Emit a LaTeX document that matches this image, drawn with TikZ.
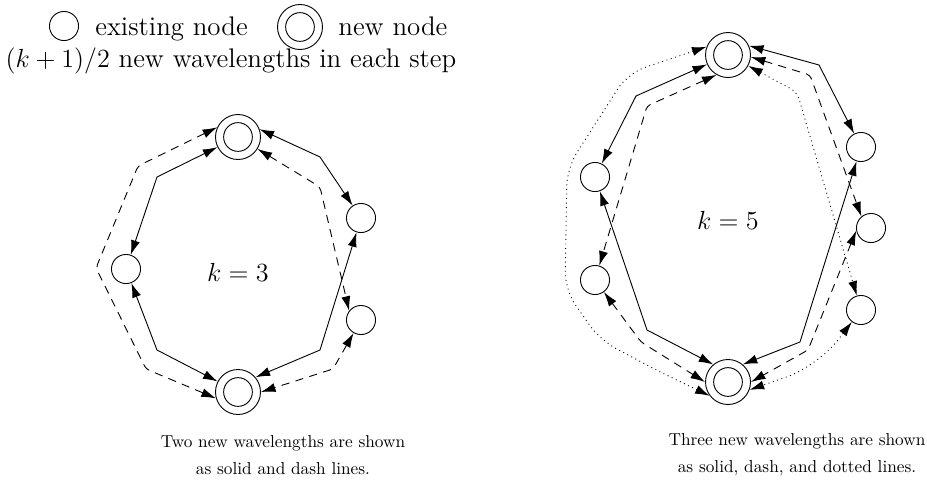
\documentclass[tikz,border=0pt]{standalone}
\usepackage{tikz}
\usetikzlibrary{arrows.meta}

\tikzset{
  oldnode/.style={circle, draw, line width=0.5pt, minimum size=16pt, inner sep=0pt},
  newnode/.style={circle, draw, line width=0.5pt, minimum size=24.75pt, inner sep=0pt,
    path picture={\draw[line width=0.5pt] (path picture bounding box.center) circle (7.9pt);}},
  solidline/.style={<->, >={Latex[length=8pt,width=5pt]}, line width=0.5pt},
  dashline/.style={solidline, dash pattern=on 4.5pt off 3.5pt, rounded corners=2pt},
  dotline/.style={solidline, dotted, rounded corners=4pt},
  legend/.style={font=\fontsize{14.8}{18}\selectfont, inner sep=0pt},
  caption/.style={align=center, font=\fontsize{9.5}{14.8}\selectfont},
}

\begin{document}
\begin{tikzpicture}[x=0.55pt, y=-0.55pt]
    \useasboundingbox (0,0) rectangle (927,493);

    % Legend
    \node[oldnode] (keyold) at (64,26) {};
    \node[legend, anchor=base west] (keyoldtext) at (95,35) {existing node};
    \node[newnode] (keynew) at (300,27) {};
    \node[legend, anchor=base west] (keynewtext) at (338,35) {new node};
    \node[legend, anchor=base] (keystep) at (231,67) {$(k+1)/2$ new wavelengths in each step};

    % Ring k = 3
    \node[newnode] (top3) at (238,137) {};
    \node[oldnode] (left3) at (126,269) {};
    \node[oldnode] (upper3) at (361,218) {};
    \node[oldnode] (lower3) at (361,320) {};
    \node[newnode] (bot3) at (238,392) {};
    \node[legend, anchor=base] (k3) at (238,281) {$k=3$};

    % solid
    \draw[solidline] (left3) -- (157,177) -- (top3);
    \draw[solidline] (top3.20) -- (320,157) -- (upper3);
    \draw[solidline] (left3) -- (157,350) -- (bot3);
    \draw[solidline] (upper3) -- (320,350) -- (bot3.40);
    % dashed
    \draw[dashline] (top3.155) -- (138,166) -- (96,268) -- (146,369) -- (bot3.196);
    \draw[dashline] (top3) -- (320,187) -- (lower3.142);
    \draw[dashline] (lower3) -- (333,369) -- (bot3.0);

    % Ring k = 5
    \node[newnode] (top5) at (728,55) {};
    \node[oldnode] (lup5) at (595,177) {};
    \node[oldnode] (llo5) at (595,280) {};
    \node[oldnode] (rup5) at (861,147) {};
    \node[oldnode] (rmid5) at (871,228) {};
    \node[oldnode] (rlo5) at (861,310) {};
    \node[newnode] (bot5) at (728,382) {};
    \node[legend, anchor=base] (k5) at (728,229) {$k=5$};

    % solid
    \draw[solidline] (top5) -- (636,96) -- (lup5);
    \draw[solidline] (lup5) -- (647,330) -- (bot5.130);
    \draw[solidline] (top5.24) -- (819,65) -- (rup5);
    \draw[solidline] (rup5) -- (800,342) -- (bot5.50);
    % dashed
    \draw[dashline] (top5.240) -- (647,106) -- (llo5);
    \draw[dashline] (llo5) -- (641,342) -- (bot5.180);
    \draw[dashline] (top5.-5) -- (810,75) -- (rmid5.130);
    \draw[dashline] (rmid5.190) -- (808,350) -- (bot5.0);
    % dotted
    \draw[dotline, rounded corners=10pt] (top5.159) -- (628,73) -- (567,168) -- (565,290)
        -- (600,340) -- (660,372) -- (bot5.217);
    \draw[dotline] (top5) -- (797,92) -- (rlo5);
    \draw[dotline, rounded corners=18pt] (rlo5) -- (818,366) -- (bot5.-20);

    % Captions
    \node[caption] (cap3) at (283,455) {Two new wavelengths are shown\\as solid and dash lines.};
    \node[caption] (cap5) at (797,455) {Three new wavelengths are shown\\as solid, dash, and dotted lines.};

\end{tikzpicture}
\end{document}
